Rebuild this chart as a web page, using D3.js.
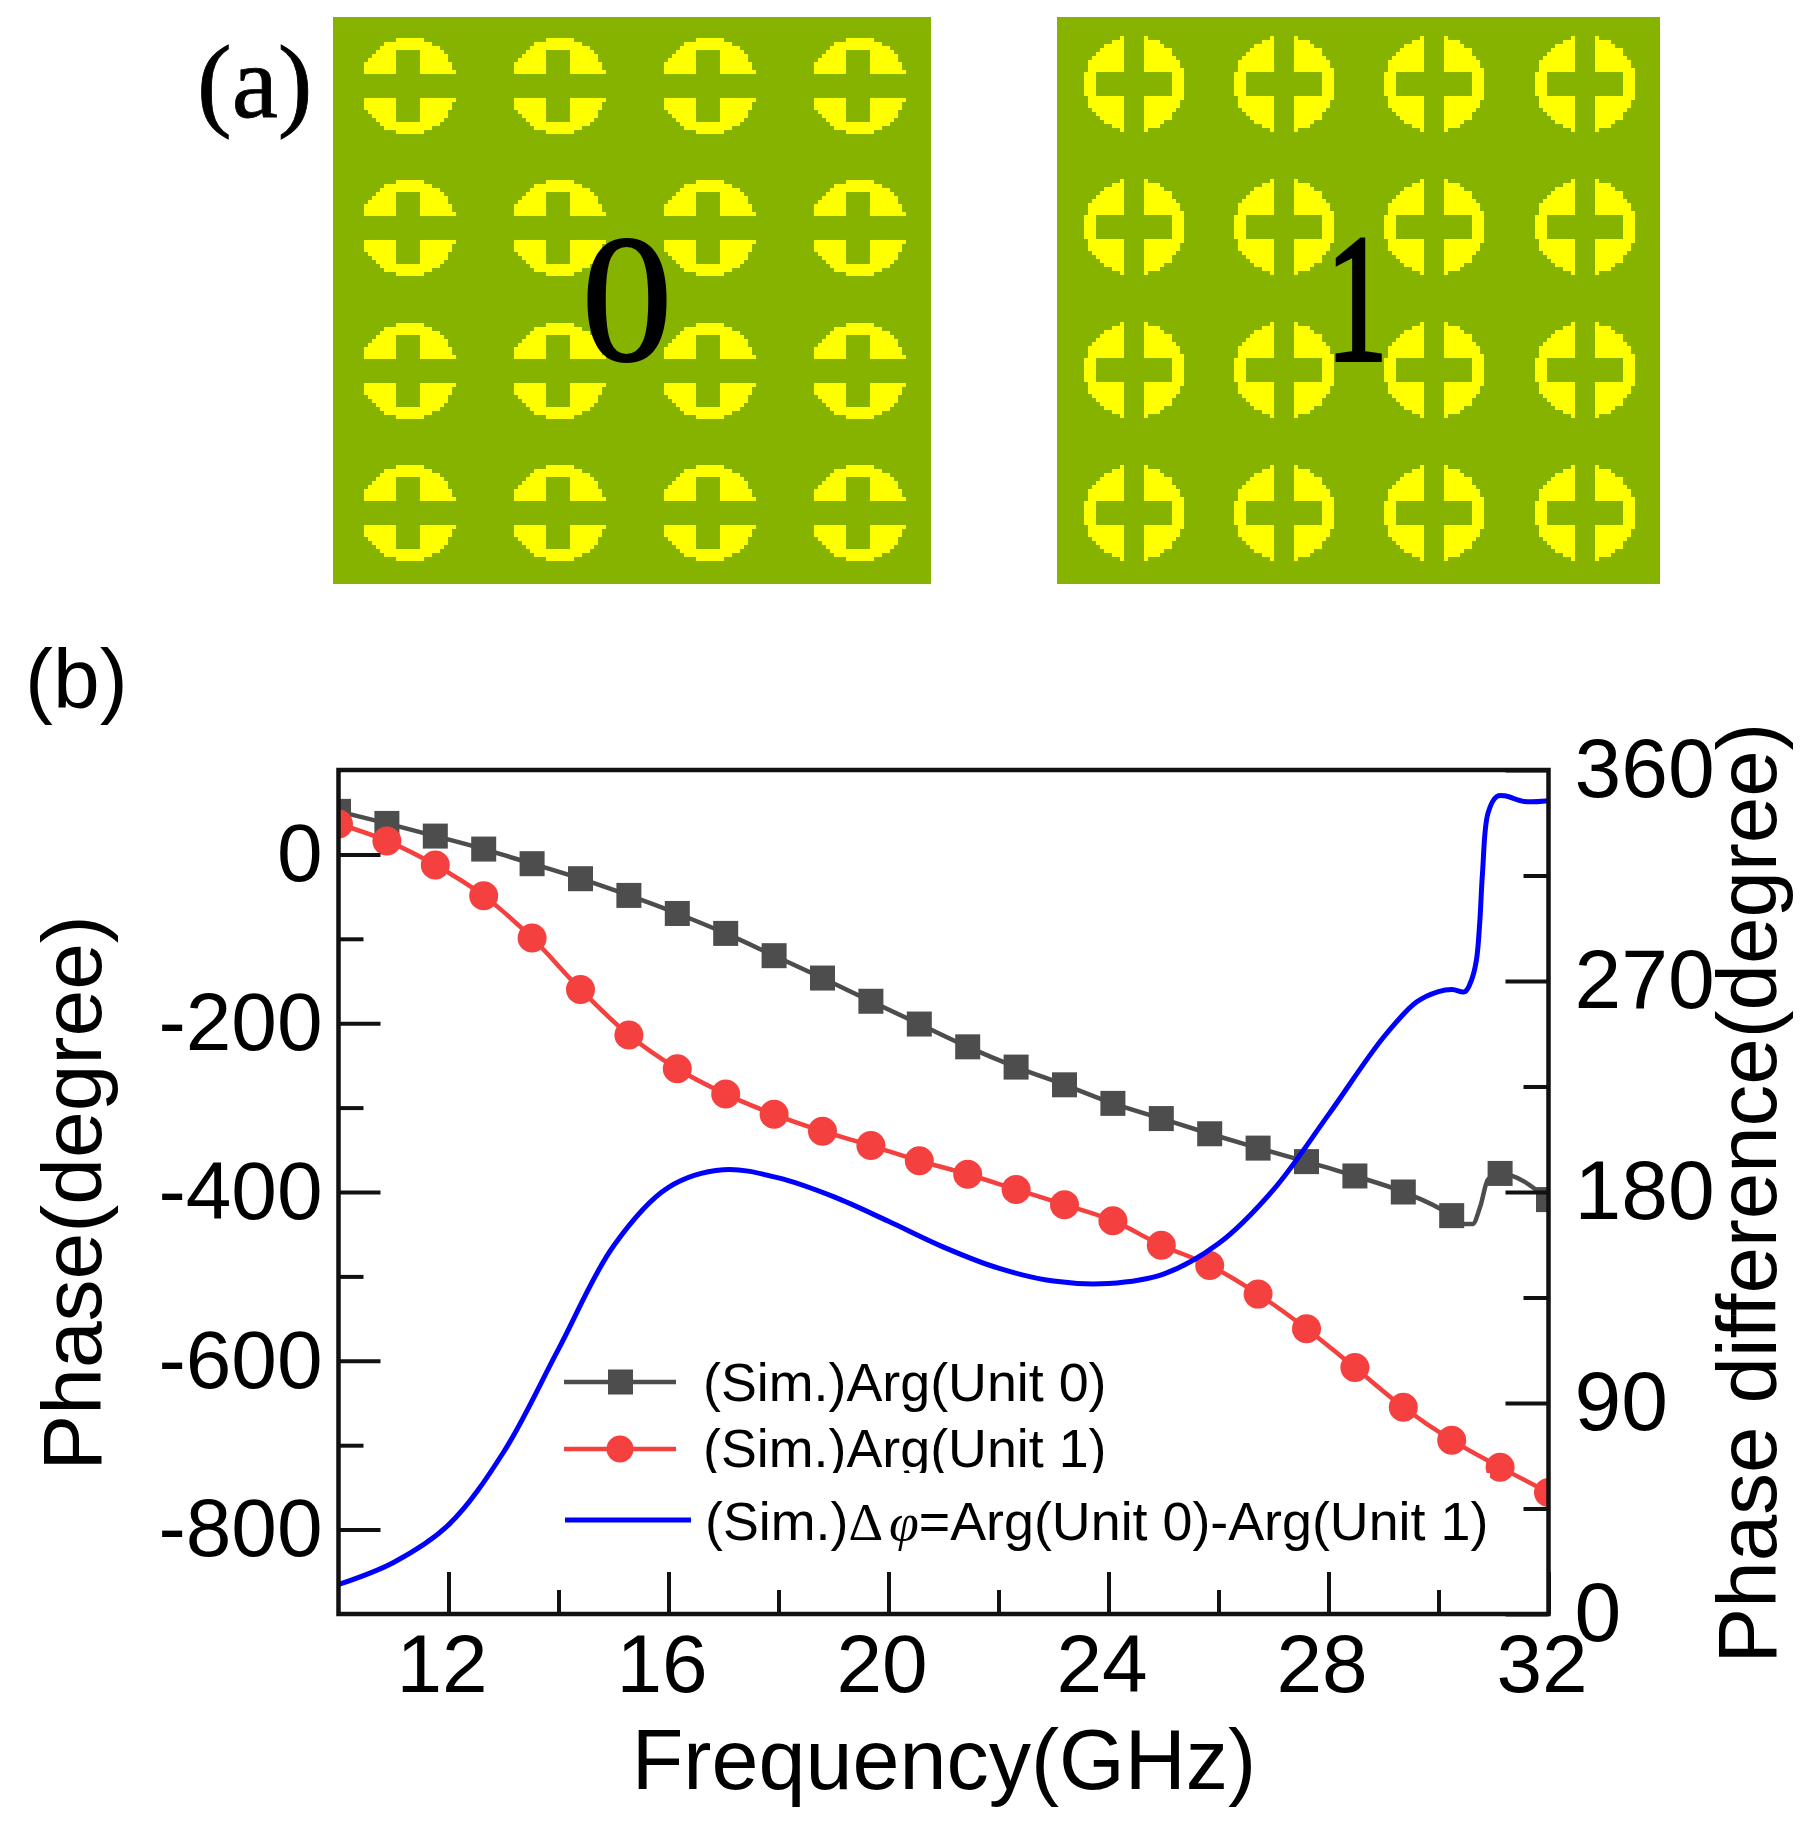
<!DOCTYPE html>
<html>
<head>
<meta charset="utf-8">
<title>Phase response of coding units</title>
<script src="https://cdn.jsdelivr.net/npm/d3@7"></script>
<style>
  body { margin: 0; background: #fff; }
  text { font-family: "Liberation Sans", Arial, sans-serif; fill: #000; }
  .serif { font-family: "Liberation Serif", serif; }
</style>
</head>
<body>
<div id="chart"></div>
<script>
// Simulated phase curves
const markerFreq = [10, 10.88, 11.76, 12.64, 13.52, 14.4, 15.28, 16.16, 17.04, 17.92, 18.8, 19.68, 20.56,
  21.44, 22.32, 23.2, 24.08, 24.96, 25.84, 26.72, 27.6, 28.48, 29.36, 30.24, 31.12, 32];
const unit0Phase = [51, 36.7, 21.7, 6.3, -11, -28.8, -48.6, -70, -93.6, -120, -146.5, -174, -201,
  -228, -252, -273, -295, -313, -331, -348, -364, -381, -400, -428, -378, -409];
const unit1Phase = [36, 16, -12.6, -49, -99, -160, -214, -254, -284, -308, -328, -345, -363,
  -379, -397, -415, -434, -463, -487, -521, -562, -608, -655, -694, -726, -756];
// the unit 0 line has a small dip between the last markers
const unit0DipFreq = [30.45, 30.62, 30.76, 30.9];
const unit0DipPhase = [-438, -438, -417, -385];

const diffFreq = [10, 11, 12, 13, 14, 15, 16, 17, 18, 19, 20, 21, 22, 23, 24, 25, 26, 27, 28, 29, 29.6, 30, 30.25, 30.48,
  30.6, 30.69, 30.75, 30.8, 30.9, 31.06, 31.2, 31.56, 31.95, 32];
const diffPhase = [12.6, 22, 38, 69, 113, 157, 182, 189.5, 186, 178, 167.5, 156.5, 147.5, 142, 141, 145, 158, 181, 213, 246, 261, 265.5, 266.4, 265.4,
  270.4, 279, 295, 316, 341.6, 348.7, 349, 346.6, 346.8, 347];

const freqMajor = [12, 16, 20, 24, 28, 32];
const freqMinor = [14, 18, 22, 26, 30];
const phaseMajor = [0, -200, -400, -600, -800];
const phaseMinor = [-100, -300, -500, -700];
const diffMajor = [0, 90, 180, 270, 360];
const diffMinor = [45, 135, 225, 315];

const legendLabels = ['(Sim.)Arg(Unit 0)', '(Sim.)Arg(Unit 1)'];
const cellIndex = [0, 1, 2, 3];

const GRAY = '#4d4d4d', RED = '#f54040', BLUE = '#0000ff', GREEN = '#86b300', YELLOW = '#ffff00';

const svg = d3.select('#chart').append('svg')
  .attr('width', 1816)
  .attr('height', 1824)
  .style('display', 'block');

// ---- panel (a): the two unit cell layouts ----

// circle cut by a cross, built on a coarse pixel grid like the bitmap it came from
function cellPath(cx, cy, rx, ry, keep) {
  const step = 4;
  let d = '';
  for (let dy = -ry; dy < ry; dy += step) {
    for (let dx = -rx; dx < rx; dx += step) {
      const px = dx + step / 2, py = dy + step / 2;
      if ((px * px) / (rx * rx) + (py * py) / (ry * ry) > 1) continue;
      if (!keep(Math.abs(px), Math.abs(py))) continue;
      d += `M${Math.round(cx + dx)},${Math.round(cy + dy)}h${step}v${step}h${-step}z`;
    }
  }
  return d;
}

function drawPanel(x, width, colRange, rowRange, rx, ry, keep, label, labelX, squeeze, weight) {
  const col = d3.scaleLinear().domain([0, 3]).range(colRange);
  const row = d3.scaleLinear().domain([0, 3]).range(rowRange);
  const g = svg.append('g');
  g.append('rect').attr('x', x).attr('y', 17).attr('width', width).attr('height', 567).attr('fill', GREEN);
  const cells = d3.cross(cellIndex, cellIndex);
  g.selectAll('path').data(cells).join('path')
    .attr('d', d => cellPath(col(d[0]), row(d[1]), rx, ry, keep))
    .attr('fill', YELLOW)
    .attr('shape-rendering', 'crispEdges');
  g.append('text')
    .attr('class', 'serif')
    .attr('transform', `translate(${labelX},360) scale(${squeeze},1)`)
    .attr('text-anchor', 'middle')
    .attr('font-size', 182)
    .attr('stroke', '#000')
    .attr('stroke-width', weight)
    .text(label);
}

drawPanel(333, 598, [408, 858], [86, 513], 48.5, 48,
  (ax, ay) => ay >= 11 && !(ax < 11.5 && ay < 34.7), '0', 627, 1, 2);
drawPanel(1057, 603, [1134, 1585], [84, 513], 50.5, 48,
  (ax, ay) => ax >= 11.5 && !(ay < 11 && ax < 36.7), '1', 1357, 0.68, 4);

svg.append('text').attr('class', 'serif')
  .attr('x', 197).attr('y', 117)
  .attr('font-size', 104)
  .attr('stroke', '#000')
  .attr('stroke-width', 0.8)
  .text('(a)');
svg.append('text')
  .attr('x', 25).attr('y', 708)
  .attr('font-size', 84)
  .text('(b)');

// ---- panel (b): phase plot ----

const plot = { left: 338.5, right: 1548.5, top: 770, bottom: 1614 };

const x = d3.scaleLinear().domain([10, 32]).range([plot.left, plot.right]);
const yPhase = d3.scaleLinear().domain([-900, 100]).range([plot.bottom, plot.top]);
const yDiff = d3.scaleLinear().domain([0, 360]).range([plot.bottom, plot.top]);

svg.append('clipPath').attr('id', 'plot-clip').append('rect')
  .attr('x', plot.left).attr('y', plot.top)
  .attr('width', plot.right - plot.left).attr('height', plot.bottom - plot.top);

const marks = svg.append('g').attr('clip-path', 'url(#plot-clip)');

const unit0Line = markerFreq.map((f, i) => [f, unit0Phase[i]])
  .concat(unit0DipFreq.map((f, i) => [f, unit0DipPhase[i]]))
  .sort((a, b) => a[0] - b[0]);
const unit1Line = markerFreq.map((f, i) => [f, unit1Phase[i]]);
const diffLine = diffFreq.map((f, i) => [f, diffPhase[i]]);

const phaseCurve = d3.line().x(d => x(d[0])).y(d => yPhase(d[1])).curve(d3.curveMonotoneX);
const diffCurve = d3.line().x(d => x(d[0])).y(d => yDiff(d[1])).curve(d3.curveCatmullRom.alpha(0.5));

marks.append('path').attr('d', phaseCurve(unit0Line))
  .attr('fill', 'none').attr('stroke', GRAY).attr('stroke-width', 4.5);
marks.selectAll('.square').data(markerFreq).join('rect')
  .attr('class', 'square')
  .attr('x', d => x(d) - 12.5)
  .attr('y', (d, i) => yPhase(unit0Phase[i]) - 12.5)
  .attr('width', 25).attr('height', 25)
  .attr('fill', GRAY);

marks.append('path').attr('d', phaseCurve(unit1Line))
  .attr('fill', 'none').attr('stroke', RED).attr('stroke-width', 4.5);
marks.selectAll('.dot').data(markerFreq).join('circle')
  .attr('class', 'dot')
  .attr('cx', d => x(d))
  .attr('cy', (d, i) => yPhase(unit1Phase[i]))
  .attr('r', 14.5)
  .attr('fill', RED);

marks.append('path').attr('d', diffCurve(diffLine))
  .attr('fill', 'none').attr('stroke', BLUE).attr('stroke-width', 5);

// axes: inward ticks, long ones labelled
function styleAxis(g, fontSize) {
  g.select('.domain').remove();
  g.selectAll('line').attr('stroke', '#111').attr('stroke-width', 4);
  g.selectAll('text').attr('font-size', fontSize).attr('fill', '#000')
    .style('font-family', '"Liberation Sans", Arial, sans-serif');
}

// plain hyphen on the negative labels, as in the figure
const plainInt = d => String(d);

const xAxisG = svg.append('g').attr('transform', `translate(0,${plot.bottom})`)
  .call(d3.axisBottom(x).tickValues(freqMajor).tickSize(-42).tickPadding(20).tickFormat(plainInt))
  .call(styleAxis, 82);
xAxisG.selectAll('text').attr('dx', -7);
svg.append('g').attr('transform', `translate(0,${plot.bottom})`)
  .call(d3.axisBottom(x).tickValues(freqMinor).tickSize(-24).tickFormat(''))
  .call(styleAxis, 82);

svg.append('g').attr('transform', `translate(${plot.left},0)`)
  .call(d3.axisLeft(yPhase).tickValues(phaseMajor).tickSize(-42).tickPadding(16).tickFormat(plainInt))
  .call(styleAxis, 82);
svg.append('g').attr('transform', `translate(${plot.left},0)`)
  .call(d3.axisLeft(yPhase).tickValues(phaseMinor).tickSize(-25).tickFormat(''))
  .call(styleAxis, 82);

svg.append('g').attr('transform', `translate(${plot.right},0)`)
  .call(d3.axisRight(yDiff).tickValues(diffMajor).tickSize(-43).tickPadding(26).tickFormat(plainInt))
  .call(styleAxis, 84);
svg.append('g').attr('transform', `translate(${plot.right},0)`)
  .call(d3.axisRight(yDiff).tickValues(diffMinor).tickSize(-25).tickFormat(''))
  .call(styleAxis, 84);

svg.append('rect')
  .attr('x', plot.left).attr('y', plot.top)
  .attr('width', plot.right - plot.left).attr('height', plot.bottom - plot.top)
  .attr('fill', 'none').attr('stroke', '#111').attr('stroke-width', 4.5);

// axis titles
svg.append('text')
  .attr('x', 944).attr('y', 1789)
  .attr('text-anchor', 'middle')
  .attr('font-size', 84.5)
  .text('Frequency(GHz)');
svg.append('text')
  .attr('transform', 'translate(101,1193) rotate(-90)')
  .attr('text-anchor', 'middle')
  .attr('font-size', 84)
  .text('Phase(degree)');
svg.append('text')
  .attr('transform', 'translate(1776,1193) rotate(-90)')
  .attr('text-anchor', 'middle')
  .attr('font-size', 83.5)
  .text('Phase difference(degree)');

// legend
const legend = svg.append('g');
const legendColor = [GRAY, RED];
const legendY = [1382, 1449];
const legendBase = [1401, 1467];

legendLabels.forEach((label, i) => {
  legend.append('line')
    .attr('x1', 564).attr('x2', 676)
    .attr('y1', legendY[i]).attr('y2', legendY[i])
    .attr('stroke', legendColor[i]).attr('stroke-width', 4.5);
  legend.append('text')
    .attr('x', 703).attr('y', legendBase[i])
    .attr('font-size', 53.8)
    .text(label);
});
legend.append('rect').attr('x', 608).attr('y', legendY[0] - 12.5).attr('width', 25).attr('height', 25).attr('fill', GRAY);
legend.append('circle').attr('cx', 620).attr('cy', legendY[1]).attr('r', 13.5).attr('fill', RED);

// third entry sits on a white box that trims the g above it
legend.append('rect').attr('x', 700).attr('y', 1473).attr('width', 790).attr('height', 20).attr('fill', '#fff');
legend.append('line')
  .attr('x1', 565).attr('x2', 691)
  .attr('y1', 1520).attr('y2', 1520)
  .attr('stroke', BLUE).attr('stroke-width', 5);
const diffLabel = legend.append('text').attr('x', 705).attr('y', 1540).attr('font-size', 53.8);
diffLabel.append('tspan').text('(Sim.)');
diffLabel.append('tspan').attr('class', 'serif').style('font-family', '"Liberation Serif", serif').text('Δ');
diffLabel.append('tspan').attr('class', 'serif').style('font-family', '"Liberation Serif", serif')
  .attr('font-style', 'italic').attr('dx', 6).text('φ');
diffLabel.append('tspan').text('=Arg(Unit 0)-Arg(Unit 1)');
</script>
</body>
</html>
